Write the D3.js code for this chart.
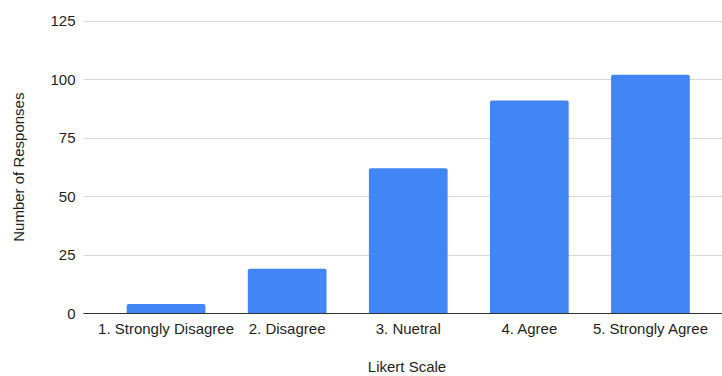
<!DOCTYPE html>
<html>
<head>
<meta charset="utf-8">
<script src="https://cdn.jsdelivr.net/npm/d3@7"></script>
<style>
  html, body { margin: 0; padding: 0; background: #fff; }
  svg { display: block; }
  text { font-family: "Liberation Sans", Arial, sans-serif; fill: #1f1f1f; }
</style>
</head>
<body>
<svg id="chart" width="722" height="376"></svg>
<script>
// Likert responses
const categories = ["1. Strongly Disagree", "2. Disagree", "3. Nuetral", "4. Agree", "5. Strongly Agree"];
const responses = [4, 19, 62, 91, 102];
const yTicks = [0, 25, 50, 75, 100, 125];

const svg = d3.select("#chart");
const fontSize = "15px";

const gridLeft = 83.5, gridRight = 722;
const y = d3.scaleLinear().domain([0, 125]).range([313.3, 21]);
const x = d3.scaleBand()
  .domain(categories)
  .range([105.5, 711])
  .paddingInner(0.35)
  .paddingOuter(0.175);

// horizontal gridlines
svg.append("g")
  .selectAll("line")
  .data(yTicks.filter(d => d !== 0))
  .join("line")
  .attr("x1", gridLeft).attr("x2", gridRight)
  .attr("y1", d => Math.round(y(d)) + 0.5)
  .attr("y2", d => Math.round(y(d)) + 0.5)
  .attr("stroke", "#d9d9d9")
  .attr("stroke-width", 1);

// y tick labels
svg.append("g")
  .selectAll("text")
  .data(yTicks)
  .join("text")
  .attr("x", 75.5)
  .attr("y", d => y(d))
  .attr("dy", "0.35em")
  .attr("text-anchor", "end")
  .style("font-size", fontSize)
  .text(d => d);

// bars with slightly rounded top corners
const r = 2;
function barPath(d, i) {
  const x0 = x(categories[i]), x1 = x0 + x.bandwidth();
  const y0 = y(0), y1 = y(d);
  return `M${x0},${y0}V${y1 + r}Q${x0},${y1} ${x0 + r},${y1}H${x1 - r}Q${x1},${y1} ${x1},${y1 + r}V${y0}Z`;
}
svg.append("g")
  .selectAll("path")
  .data(responses)
  .join("path")
  .attr("d", (d, i) => barPath(d, i))
  .attr("fill", "#4285f4");

// baseline
svg.append("line")
  .attr("x1", gridLeft).attr("x2", gridRight)
  .attr("y1", Math.round(y(0)) + 0.5).attr("y2", Math.round(y(0)) + 0.5)
  .attr("stroke", "#333")
  .attr("stroke-width", 1);

// x category labels
svg.append("g")
  .selectAll("text")
  .data(categories)
  .join("text")
  .attr("x", d => x(d) + x.bandwidth() / 2)
  .attr("y", 333.5)
  .attr("text-anchor", "middle")
  .style("font-size", fontSize)
  .text(d => d);

// axis titles
svg.append("text")
  .attr("x", 407)
  .attr("y", 372)
  .attr("text-anchor", "middle")
  .style("font-size", fontSize)
  .text("Likert Scale");

svg.append("text")
  .attr("transform", `translate(24, ${(y(0) + y(125)) / 2}) rotate(-90)`)
  .attr("text-anchor", "middle")
  .style("font-size", fontSize)
  .text("Number of Responses");
</script>
</body>
</html>
